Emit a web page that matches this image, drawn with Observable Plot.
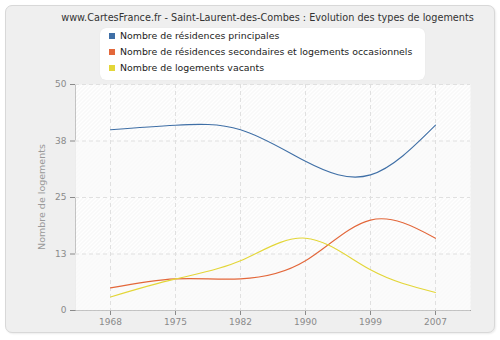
<!DOCTYPE html>
<html>
<head>
<meta charset="utf-8">
<script src="https://cdn.jsdelivr.net/npm/d3@7"></script>
<script src="https://cdn.jsdelivr.net/npm/@observablehq/plot@0.6"></script>
<style>
  html, body { margin: 0; padding: 0; background: #ffffff; }
  #wrap { position: relative; width: 500px; height: 340px; font-family: "DejaVu Sans", sans-serif; }
  #frame { position: absolute; left: 5px; top: 5px; width: 488px; height: 326px; background: #efefef; border: 1px solid #d8d8d8; border-radius: 7px; box-shadow: 1px 1px 2px rgba(0,0,0,0.08); }
  #chart { position: absolute; left: 0; top: 0; }
  #title { position: absolute; left: 35px; width: 465px; top: 12px; text-align: center; font-size: 9.7px; color: #333; white-space: nowrap; }
  #legend { position: absolute; left: 100px; top: 28px; width: 325px; height: 52px; background: #fff; border-radius: 6px; box-shadow: 0 0 1px rgba(0,0,0,0.1); }
  .row { position: absolute; left: 0; height: 16px; line-height: 16px; font-size: 9.4px; color: #222; white-space: nowrap; }
  .sw { position: absolute; left: 9px; top: 5px; width: 6px; height: 6px; }
  .lab { position: absolute; left: 20px; top: 0; }
</style>
</head>
<body>
<div id="wrap">
  <div id="frame"></div>
  <div id="chart"></div>
  <div id="title"></div>
  <div id="legend"></div>
</div>
<script>
const titleText = "www.CartesFrance.fr - Saint-Laurent-des-Combes : Evolution des types de logements";
const yAxisTitle = "Nombre de logements";
const years = ["1968", "1975", "1982", "1990", "1999", "2007"];
const principales = [40, 41, 40, 33, 30, 41];
const secondaires = [5, 7, 7, 11, 20, 16];
const vacants = [3, 7, 11, 16, 9, 4];
const seriesNames = [
  "Nombre de résidences principales",
  "Nombre de résidences secondaires et logements occasionnels",
  "Nombre de logements vacants"
];
const seriesColors = ["#3f6fa6", "#e3673a", "#e3d638"];
const yTicks = [0, 12.5, 25, 37.5, 50];
const yTickLabels = ["0", "13", "25", "38", "50"];

const seriesValues = [principales, secondaires, vacants];
const data = [];
seriesNames.forEach((s, k) => years.forEach((y, i) => data.push({ series: s, year: y, value: seriesValues[k][i] })));
const lightBands = [[0, 12.5], [25, 37.5]].map(([a, b]) => ({ y1: a, y2: b }));

const plot = Plot.plot({
  width: 500,
  height: 340,
  marginLeft: 75,
  marginRight: 30,
  marginTop: 84,
  marginBottom: 30,
  style: { background: "transparent", fontFamily: "DejaVu Sans, sans-serif", fontSize: "9px", color: "#8a8a8a" },
  x: { type: "point", domain: years, padding: 0.5, label: null, tickSize: 5, tickPadding: 3, line: true },
  y: { domain: [0, 50], ticks: yTicks, tickFormat: d => yTickLabels[yTicks.indexOf(d)], label: null, tickSize: 5, tickPadding: 4, line: true },
  color: { domain: seriesNames, range: seriesColors },
  marks: [
    Plot.frame({ fill: "url(#hatch)", stroke: null }),
    Plot.rect(lightBands, { y1: "y1", y2: "y2", fill: "#fafafa", fillOpacity: 0.75 }),
    Plot.ruleY(yTicks.slice(1), { stroke: "#e0e0e0", strokeDasharray: "4,3" }),
    Plot.ruleX(years, { stroke: "#e0e0e0", strokeDasharray: "4,3" }),
    Plot.line(data, { x: "year", y: "value", z: "series", stroke: "series", curve: "natural", strokeWidth: 1.1 })
  ]
});
document.getElementById("chart").appendChild(plot);

const svg = d3.select(plot);
const defs = svg.insert("defs", ":first-child");
const pat = defs.append("pattern").attr("id", "hatch").attr("patternUnits", "userSpaceOnUse").attr("width", 4).attr("height", 4);
pat.append("rect").attr("width", 4).attr("height", 4).attr("fill", "#ffffff");
pat.append("path").attr("d", "M-1,1 l2,-2 M0,4 l4,-4 M3,5 l2,-2").attr("stroke", "#ececec").attr("stroke-width", 0.8);

svg.append("text")
  .attr("transform", "translate(45,197) rotate(-90)")
  .attr("text-anchor", "middle")
  .attr("fill", "#999")
  .attr("font-size", "9.5px")
  .attr("font-family", "DejaVu Sans, sans-serif")
  .text(yAxisTitle);

document.getElementById("title").textContent = titleText;
const legend = document.getElementById("legend");
seriesNames.forEach((s, i) => {
  const row = document.createElement("div");
  row.className = "row";
  row.style.top = (i * 16) + "px";
  row.innerHTML = `<span class="sw" style="background:${seriesColors[i]}"></span><span class="lab"></span>`;
  row.querySelector(".lab").textContent = s;
  legend.appendChild(row);
});
</script>
</body>
</html>
